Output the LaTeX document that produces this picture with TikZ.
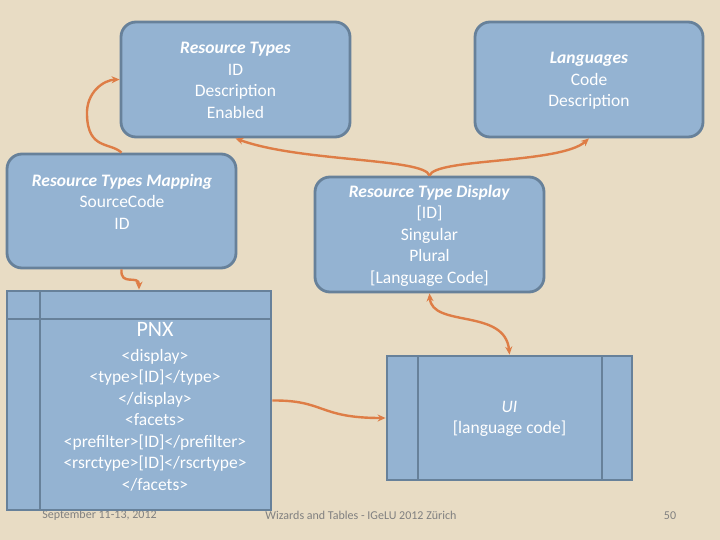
\documentclass[tikz,border=0pt]{standalone}
\usepackage{fontspec}
\setmainfont{Carlito}
\usetikzlibrary{arrows.meta}
\definecolor{bgtan}{HTML}{E8DCC4}
\definecolor{boxfill}{HTML}{94B3D2}
\definecolor{boxline}{HTML}{67819A}
\definecolor{conn}{HTML}{DE7D46}
\definecolor{foot}{HTML}{808080}
\tikzset{
  rbox/.style={draw=boxline, line width=2.8pt, fill=boxfill, rounded corners=15pt, inner sep=0pt},
  sbox/.style={draw=boxline, line width=2.8pt, fill=boxfill, inner sep=0pt},
  divline/.style={draw=boxline, line width=2.8pt},
  boxtext/.style={text=white, align=center, font=\fontsize{17.5}{21.5}\selectfont, inner sep=0pt},
  link/.style={draw=conn, line width=2.4pt, -{Stealth[length=8pt,width=7pt]}},
  biglink/.style={draw=conn, line width=2.4pt, {Stealth[length=8pt,width=7pt]}-{Stealth[length=8pt,width=7pt]}},
  foottext/.style={text=foot, font=\fontsize{12}{14}\selectfont, inner sep=0pt}
}
\begin{document}
\begin{tikzpicture}[x=1pt, y=-1pt]
\useasboundingbox[fill=bgtan] (0,0) rectangle (720,540);
% footer (behind the PNX box)
\node[foottext] (fdate) at (99.5,515.5) {September 11-13, 2012};
\node[foottext] (ftitle) at (361,515.5) {Wizards and Tables - IGeLU 2012 Zürich};
\node[foottext] (fpage) at (670,515.5) {50};
% boxes
\node[rbox, minimum width=229pt, minimum height=115pt] (rt) at (235.5,79.5) {};
\node[boxtext] (rttext) at (235.5,80.5) {\textbf{\textit{Resource Types}}\\ID\\Description\\Enabled};
\node[rbox, minimum width=228pt, minimum height=115pt] (lang) at (589,79.5) {};
\node[boxtext] (langtext) at (589,81) {\textbf{\textit{Languages}}\\Code\\Description};
\node[rbox, minimum width=229pt, minimum height=114pt] (map) at (121.5,211) {};
\node[boxtext] (maptext) at (122,201.5) {\textbf{\textit{Resource Types Mapping}}\\SourceCode\\ID};
\node[rbox, minimum width=229pt, minimum height=115pt] (rtd) at (429.5,234.5) {};
\node[boxtext] (rtdtext) at (429.5,235.5) {\textbf{\textit{Resource Type Display}}\\{[ID]}\\Singular\\Plural\\{[Language Code]}};
% PNX
\node[sbox, minimum width=264pt, minimum height=219pt] (pnx) at (139,400.5) {};
\coordinate (pnxhl) at (7,319);
\coordinate (pnxhr) at (271,319);
\coordinate (pnxvt) at (40,291);
\coordinate (pnxvb) at (40,510);
\draw[divline] (pnxhl) -- (pnxhr);
\draw[divline] (pnxvt) -- (pnxvb);
\node[boxtext, font=\fontsize{22}{24}\selectfont] (pnxtitle) at (155,329) {PNX};
\node[boxtext] (pnxtext) at (155,420) {<display>\\<type>[ID]</type>\\</display>\\<facets>\\<prefilter>[ID]</prefilter>\\<rsrctype>[ID]</rscrtype>\\</facets>};
% UI
\node[sbox, minimum width=245pt, minimum height=124pt] (ui) at (509.5,418) {};
\coordinate (uil1) at (418,356);
\coordinate (uil2) at (418,480);
\coordinate (uir1) at (602,356);
\coordinate (uir2) at (602,480);
\draw[divline] (uil1) -- (uil2);
\draw[divline] (uir1) -- (uir2);
\node[boxtext] (uitext) at (509.5,419) {\textit{UI}\\{[language code]}};
% connectors
\draw[link] (map.north) .. controls (110,142) and (88,150) .. (87,115) .. controls (86,92) and (104,80) .. (rt.west);
\draw[link] (rtd.north) .. controls (425,158) and (300,162) .. (rt.south);
\draw[link] (rtd.north) .. controls (435,158) and (560,164) .. (lang.south);
\draw[link] (map.south) .. controls (120,287) and (139,274) .. (pnx.north);
\draw[biglink] (rtd.south) .. controls (432,328) and (505,308) .. (ui.north);
\draw[link] (pnx.east) .. controls (325,400) and (318,418) .. (ui.west);
\end{tikzpicture}
\end{document}
